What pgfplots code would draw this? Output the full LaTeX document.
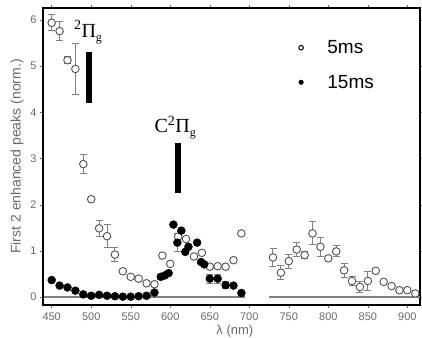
\documentclass[border=0pt]{standalone}
\usepackage{fontspec}
\setmainfont{Liberation Sans}
\newfontfamily\serif{Liberation Serif}
\usepackage{pgfplots}
\pgfplotsset{compat=1.18}
\usepackage{pgfplotstable}
\definecolor{lbl}{HTML}{6A6A6A}
\definecolor{ebar}{HTML}{808080}
\definecolor{ocirc}{HTML}{505050}

\pgfplotstableread{
x y e
450 5.94 0.17
460 5.76 0.20
470 5.13 0.08
480 4.94 0.55
490 2.88 0.20
500 2.12 0
510 1.49 0.18
520 1.32 0.25
530 0.92 0.15
540 0.56 0
550 0.44 0
560 0.40 0
570 0.30 0
580 0.28 0
590 0.90 0
600 0.72 0
610 1.31 0
620 1.26 0
630 0.88 0
640 0.96 0
650 0.66 0
660 0.67 0
670 0.66 0
680 0.80 0
690 1.38 0
}\openA

\pgfplotstableread{
x y e
730 0.86 0.19
740 0.53 0.15
750 0.78 0.15
760 1.03 0.15
770 0.91 0.08
780 1.38 0.25
790 1.09 0.20
800 0.84 0.05
810 0.99 0.12
820 0.58 0.15
830 0.35 0.10
840 0.22 0.12
850 0.35 0.20
860 0.57 0.05
870 0.33 0
880 0.24 0
890 0.15 0
900 0.15 0
910 0.08 0
}\openB

\pgfplotstableread{
x y e
450 0.37 0
460 0.25 0
470 0.21 0
480 0.14 0
490 0.06 0
500 0.03 0
510 0.05 0
520 0.03 0
530 0.02 0
540 0.01 0
550 0.01 0
560 0.02 0
570 0.03 0
580 0.10 0
588 0.44 0.05
593 0.47 0
598 0.52 0
604 1.57 0
609 1.18 0.20
614 1.44 0
619 0.98 0
623 1.09 0
634 1.18 0
639 0.76 0
643 0.71 0
650 0.40 0.10
660 0.40 0.10
670 0.26 0.08
680 0.25 0
690 0.09 0
}\filled

\pgfplotsset{ebarstyle/.style={ebar, mark=none, only marks, forget plot,
  error bars/.cd, y dir=both, y explicit,
  error bar style={ebar, line width=1pt},
  error mark options={rotate=90, mark size=3.5pt, ebar, line width=1pt}}}

\begin{document}
\begin{tikzpicture}
\path[use as bounding box] (-43pt,-32pt) rectangle (379pt,305pt);
\begin{axis}[
  scale only axis,
  width=377pt, height=297pt,
  xmin=439, xmax=916, ymin=-0.17, ymax=6.26,
  xtick={450,500,...,900}, ytick={0,1,...,6},
  axis line style={line width=2.5pt, black},
  tick style={lbl, thin},
  tick align=outside,
  major tick length=3pt,
  /pgf/number format/assume math mode=true,
  tick label style={font=\fontsize{11}{13}\selectfont, text=lbl},
  xticklabel style={yshift=-1.5pt},
  xlabel={λ (nm)},
  ylabel={First 2 enhanced peaks (norm.)},
  label style={font=\fontsize{14}{16}\selectfont, text=lbl},
  xlabel style={font=\fontsize{13}{15}\selectfont, at={(axis description cs:0.509,-0.087)}, anchor=center},
  ylabel style={at={(axis description cs:-0.069,0.5)}, anchor=center},
  clip=false,
  legend style={draw=none, fill=none, at={(rel axis cs:0.67,0.905)}, anchor=north west,
    font=\fontsize{19}{22}\selectfont, row sep=16pt, column sep=22pt},
  legend cell align=left,
]
\addplot[ebar, line width=1.5pt, forget plot] coordinates {(440,0)(695,0)};
\addplot[ebar, line width=1.5pt, forget plot] coordinates {(725,0)(916,0)};
% thick black reference bars
\addplot[black, line width=6pt, forget plot] coordinates {(497,4.20)(497,5.30)};
\addplot[black, line width=6pt, forget plot] coordinates {(610,2.25)(610,3.33)};
% error bars
\addplot[ebarstyle] table[x=x, y=y, y error=e] {\openA};
\addplot[ebarstyle] table[x=x, y=y, y error=e] {\openB};
\addplot[ebarstyle] table[x=x, y=y, y error=e] {\filled};
\addplot[only marks, mark=*, mark size=3.8pt, mark options={fill=white, draw=ocirc, line width=0.9pt}, forget plot] table[x=x,y=y] {\openA};
\addplot[only marks, mark=*, mark size=3.8pt, mark options={fill=white, draw=ocirc, line width=0.9pt}, forget plot] table[x=x,y=y] {\openB};
\addplot[only marks, mark=*, mark size=4pt, mark options={fill=black, draw=black}, forget plot] table[x=x,y=y] {\filled};
\addlegendimage{only marks, mark=*, mark size=2.3pt, mark options={fill=white, draw=black, line width=1pt}}
\addlegendentry{5ms}
\addlegendimage{only marks, mark=*, mark size=2.3pt, mark options={fill=black, draw=black}}
\addlegendentry{15ms}
\node[anchor=base west, inner sep=0pt] at (axis cs:478,5.63) {\serif\fontsize{20}{24}\selectfont\textsuperscript{2}Π\raisebox{-0.45ex}{\fontsize{12}{12}\selectfont g}};
\node[anchor=base west, inner sep=0pt] at (axis cs:580,3.56) {\serif\fontsize{20}{24}\selectfont C\textsuperscript{2}Π\raisebox{-0.45ex}{\fontsize{12}{12}\selectfont g}};
\end{axis}
\end{tikzpicture}
\end{document}
